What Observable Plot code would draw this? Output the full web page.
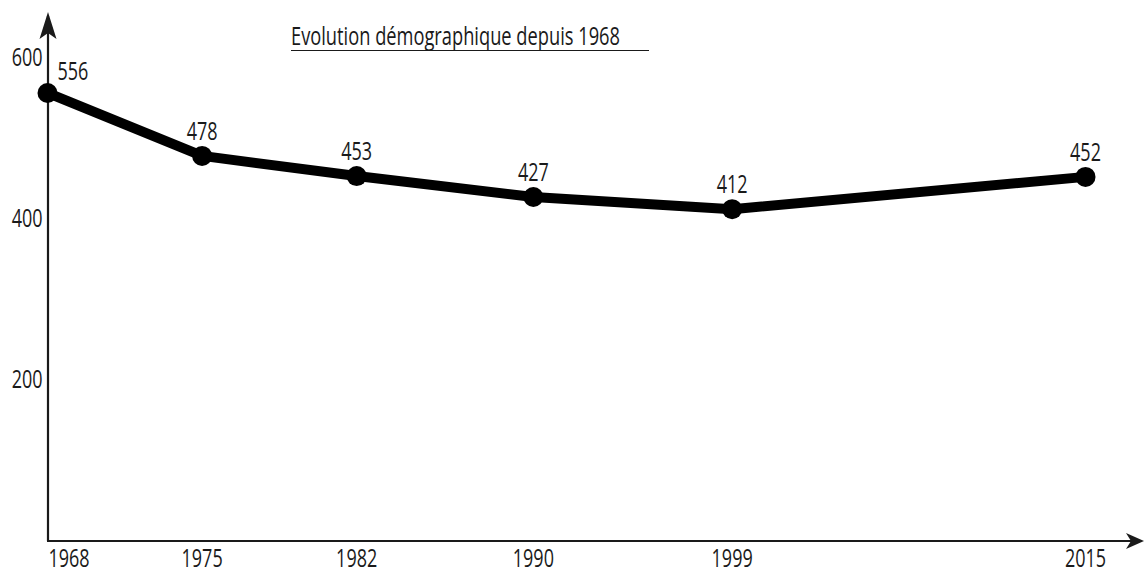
<!DOCTYPE html>
<html>
<head>
<meta charset="utf-8">
<script src="https://cdn.jsdelivr.net/npm/d3@7"></script>
<script src="https://cdn.jsdelivr.net/npm/@observablehq/plot@0.6"></script>
<style>
  html, body { margin: 0; padding: 0; background: #fff; }
  #wrap { position: relative; width: 1145px; height: 571px; }
  #title { position: absolute; left: 291px; top: 20px; width: 358px; height: 30px; border-bottom: 1.6px solid #1a1a1a; }
  #title span { position: absolute; left: 0; top: 0; font-family: "Open Sans", "Noto Sans", sans-serif; font-weight: 500; font-size: 25px; line-height: 30px; color: #1a1a1a; white-space: pre; transform-origin: 0 0; display: inline-block; }
  svg text { font-family: "Open Sans", "Noto Sans", sans-serif; font-weight: 500; }
</style>
</head>
<body>
<div id="wrap"><div id="title"><span id="titleText"></span></div></div>
<script>
const years = [1968, 1975, 1982, 1990, 1999, 2015];
const population = [556, 478, 453, 427, 412, 452];
const yTicks = [200, 400, 600];
const titleText = "Evolution démographique depuis 1968";

const data = years.map((year, i) => ({year, pop: population[i]}));
const FS = 25;
const SQUEEZE = 0.72;
const INK = "#1a1a1a";

const plot = Plot.plot({
  width: 1145,
  height: 571,
  marginLeft: 47,
  marginRight: 60,
  marginTop: 57,
  marginBottom: 30,
  style: {fontSize: FS + "px", color: INK, background: "transparent", overflow: "visible"},
  x: {domain: [1968, 2015], axis: null},
  y: {domain: [0, 600], axis: null},
  marks: [
    Plot.axisY({ticks: yTicks, tickSize: 0, tickPadding: 5, label: null, fontSize: FS, tickFormat: d => String(d), fill: INK}),
    Plot.line(data, {x: "year", y: "pop", stroke: "#000", strokeWidth: 10, strokeLinejoin: "round"}),
    Plot.dot(data, {x: "year", y: "pop", r: 10, fill: "#000"}),
    Plot.text(data.slice(1), {x: "year", y: "pop", text: d => String(d.pop), dy: -24, fontSize: FS, fill: INK}),
    Plot.text(data.slice(0, 1), {x: "year", y: "pop", text: d => String(d.pop), dx: 10, dy: -21, textAnchor: "start", fontSize: FS, fill: INK}),
    Plot.text(data.slice(1), {x: "year", y: () => 0, text: d => String(d.year), dy: 17, fontSize: FS, fill: INK}),
    Plot.text(data.slice(0, 1), {x: "year", y: () => 0, text: d => String(d.year), dy: 17, dx: 1, textAnchor: "start", fontSize: FS, fill: INK})
  ]
});

document.getElementById("wrap").prepend(plot);
plot.style.position = "absolute";
plot.style.left = "0";
plot.style.top = "0";

// condense every text horizontally around its own anchor point
d3.select(plot).selectAll("text").each(function () {
  const t = this.getAttribute("transform") || "";
  this.setAttribute("transform", `${t} scale(${SQUEEZE},1)`);
});

// title, condensed to the reference width
const ts = document.getElementById("titleText");
ts.textContent = titleText;
const w = ts.getBoundingClientRect().width;
ts.style.transform = `scale(${329 / w},1)`;

// axis lines with filled arrowheads, positioned from the plot's scales
const sx = plot.scale("x"), sy = plot.scale("y");
const x0 = sx.apply(1968) + 1, y0 = sy.apply(0);
const svg = d3.select(plot);
const g = svg.insert("g", ":first-child").attr("fill", INK).attr("stroke", INK);
g.append("line").attr("x1", x0).attr("y1", y0).attr("x2", x0).attr("y2", 16).attr("stroke-width", 2.2);
g.append("line").attr("x1", x0 - 1).attr("y1", y0).attr("x2", 1138).attr("y2", y0).attr("stroke-width", 2.2);
g.append("path").attr("stroke", "none")
  .attr("d", `M${x0},12 L${x0 + 8.5},39 L${x0},33 L${x0 - 8.5},39 Z`);
g.append("path").attr("stroke", "none")
  .attr("d", `M1144,${y0} L1126,${y0 - 8} L1131,${y0} L1126,${y0 + 8} Z`);
</script>
</body>
</html>
